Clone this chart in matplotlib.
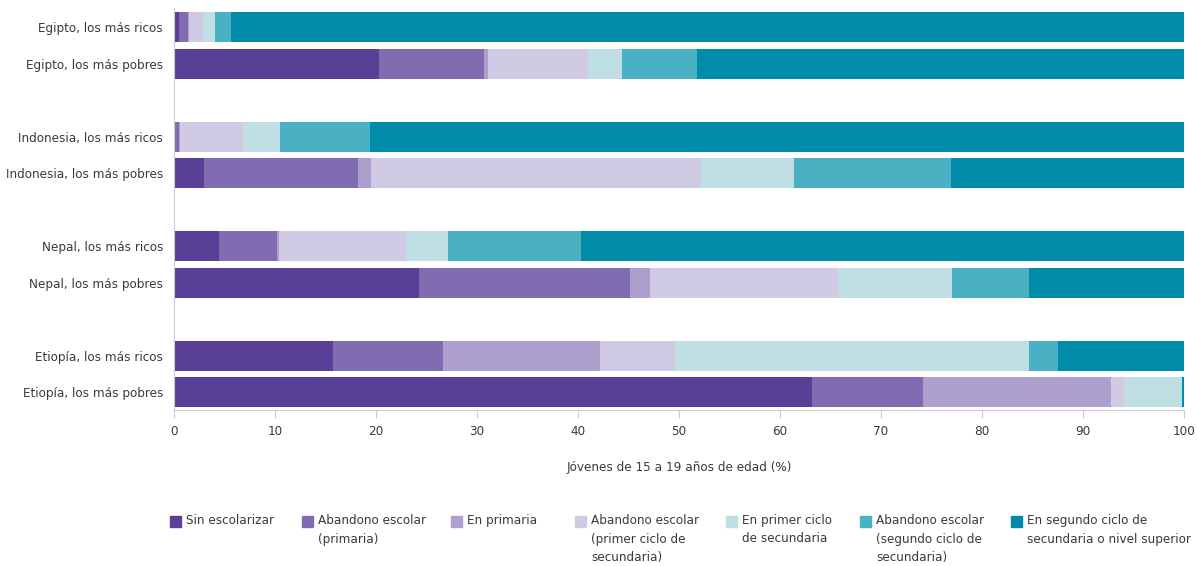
import matplotlib
matplotlib.use("Agg")
import numpy as np
import matplotlib.pyplot as plt
from matplotlib.patches import Rectangle

# narrow face, closest thing to the condensed font of the original
plt.rcParams['font.family'] = ['DejaVu Sans']
plt.rcParams['font.stretch'] = 'condensed'

groups = ["Egipto, los más ricos", "Egipto, los más pobres",
          "Indonesia, los más ricos", "Indonesia, los más pobres",
          "Nepal, los más ricos", "Nepal, los más pobres",
          "Etiopía, los más ricos", "Etiopía, los más pobres"]

categories = ["Sin escolarizar",
              "Abandono escolar\n(primaria)",
              "En primaria",
              "Abandono escolar\n(primer ciclo de\nsecundaria)",
              "En primer ciclo\nde secundaria",
              "Abandono escolar\n(segundo ciclo de\nsecundaria)",
              "En segundo ciclo de\nsecundaria o nivel superior"]

sin_escolarizar = [0.5, 20.3, 0.1, 3.0, 4.5, 24.3, 15.7, 63.2]
abandono_primaria = [0.9, 10.4, 0.4, 15.2, 5.7, 20.8, 10.9, 11.0]
en_primaria = [0.1, 0.4, 0.05, 1.3, 0.2, 2.0, 15.6, 18.6]
abandono_primer_ciclo = [1.4, 9.9, 6.3, 32.7, 12.6, 18.6, 7.4, 1.3]
en_primer_ciclo = [1.2, 3.4, 3.6, 9.2, 4.1, 11.3, 35.1, 5.7]
abandono_segundo_ciclo = [1.5, 7.4, 9.0, 15.5, 13.2, 7.7, 2.8, 0.0]
en_segundo_ciclo = [94.4, 48.2, 80.55, 23.1, 59.7, 15.3, 12.5, 0.2]

series = [sin_escolarizar, abandono_primaria, en_primaria, abandono_primer_ciclo,
          en_primer_ciclo, abandono_segundo_ciclo, en_segundo_ciclo]
colors = ["#5a3f98", "#816cb2", "#ada0ce", "#d1cae5", "#bfdfe5", "#4ab0c4", "#008ba8"]

ypos = np.array([0, 1, 3, 4, 6, 7, 9, 10])
FS = 9.6
TXT = "#3a3a3a"

fig = plt.figure(figsize=(11.97, 5.66), dpi=100)
ax = fig.add_axes([174 / 1197, (566 - 410) / 566, 1010 / 1197, 402 / 566])

left = np.zeros(len(groups))
for vals, c in zip(series, colors):
    vals = np.array(vals)
    ax.barh(ypos, vals, left=left, height=0.82, color=c, edgecolor='none')
    left += vals

ax.set_xlim(0, 100)
ax.set_ylim(10.48, -0.52)
ax.set_yticks(ypos)
ax.set_yticklabels(groups, fontsize=FS, color=TXT)
ax.set_xticks(np.arange(0, 101, 10))
ax.tick_params(axis='y', length=0, pad=8)
ax.tick_params(axis='x', length=6, color="#cccccc", labelsize=FS, labelcolor=TXT, pad=5)
for s in ['top', 'right']:
    ax.spines[s].set_visible(False)
ax.spines['left'].set_color("#cccccc")
ax.spines['bottom'].set_color("#cccccc")
ax.set_xlabel("Jóvenes de 15 a 19 años de edad (%)", fontsize=FS, color=TXT, labelpad=16)

# legend drawn by hand to keep the column layout of the original
leg_x = [170, 302, 451, 575, 726, 860, 1011]
for x, lab, c in zip(leg_x, categories, colors):
    fig.add_artist(Rectangle((x / 1197, (566 - 527) / 566), 11 / 1197, 11 / 566,
                             transform=fig.transFigure, color=c))
    fig.text((x + 16) / 1197, (566 - 514) / 566, lab, fontsize=FS, color=TXT,
             va='top', ha='left', linespacing=1.55)

fig.savefig("out.png", dpi=100)
